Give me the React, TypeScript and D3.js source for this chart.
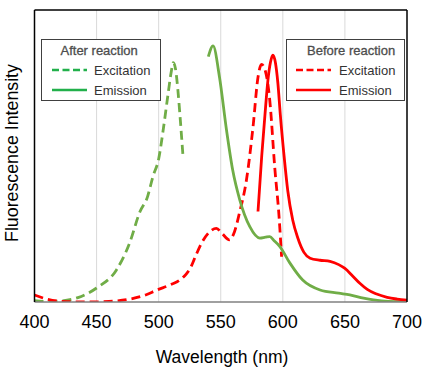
import React from 'react';
import * as d3 from 'd3';

type Pt = [number, number];

// After reaction (green)
const afterExcitation: Pt[] = [
  [400, 0.5], [410, 0.2], [422, 0.4], [435, 1.5], [450, 4.8], [466, 11], [476.6, 20.2],
  [485, 31], [491, 36], [495.4, 43], [500, 49], [504, 60], [507.5, 71], [510, 78.5],
  [511.8, 82], [513.5, 80], [515.5, 72.5], [517.5, 62], [519.5, 50.5],
];
const afterEmission: Pt[] = [
  [540, 84], [543.8, 87.7], [549, 77], [554.6, 59], [559.7, 45], [565.3, 35], [573.4, 25.8],
  [581.5, 21.9], [586, 22.2], [589.5, 22.4], [593, 21], [597.6, 19], [605.6, 13.4], [616, 7.5],
  [630, 4.1], [645, 3], [654, 2.4], [665, 1.3], [673, 0.7], [685, 0.2], [700, 0.1],
];

// Before reaction (red)
const beforeExcitation: Pt[] = [
  [400, 2.4], [410, 1], [420, 0.3], [440, 0], [460, 0.2], [477, 1], [490, 2.5], [498, 4],
  [510, 6], [517, 7.5], [522, 9.5], [526, 12], [530, 16], [535, 20.5], [541, 24], [546.5, 25.2],
  [551, 23.5], [557, 21.3], [561, 24], [565, 30.4], [570.7, 41.8], [576, 60], [580, 77],
  [582.8, 81.4], [586, 79], [589.5, 69], [593.5, 46], [597, 29], [599, 15.5],
];
const beforeEmission: Pt[] = [
  [580, 31], [583, 50], [585.5, 63.5], [588, 76], [590, 82], [592, 84.5], [594, 82], [596, 75],
  [598, 64], [601, 50], [604, 38], [608, 28], [612, 22], [617, 17], [622, 15], [630, 14.3],
  [638, 13.9], [645, 12.8], [650, 11.5], [656, 9], [662, 6.4], [668, 4.3], [675, 2.8],
  [684, 1.6], [692, 1], [700, 0.6],
];

const xTicks = [400, 450, 500, 550, 600, 650, 700];
const gridTicks = [450, 500, 550, 600, 650];

const GREEN = '#70AD47';
const GREEN_LEG = '#22B04B';
const RED = '#FF0000';

const W = 431, H = 371;
const left = 34.5, right = 407, top = 10, bottom = 302;

export default function App() {
  const x = d3.scaleLinear().domain([400, 700]).range([left, right]);
  const y = d3.scaleLinear().domain([0, 100]).range([bottom, top]);
  const line = d3.line<Pt>().x(d => x(d[0])).y(d => y(d[1])).curve(d3.curveMonotoneX);
  const font = 'Arial, "Liberation Sans", sans-serif';

  return (
    <svg width={W} height={H} style={{ position: 'absolute', left: 0, top: 0, background: '#fff' }} fontFamily={font}>
      <rect x={0} y={0} width={W} height={H} fill="#fff" />
      {/* grid */}
      {gridTicks.map(t => (
        <line key={t} x1={x(t)} x2={x(t)} y1={top} y2={bottom} stroke="#d9d9d9" strokeWidth={1} />
      ))}

      <defs>
        <clipPath id="plot">
          <rect x={left} y={top} width={right - left} height={bottom - top} />
        </clipPath>
      </defs>

      {/* curves */}
      <g clipPath="url(#plot)" fill="none" strokeWidth={2.8}>
        <path d={line(afterExcitation) || ''} stroke={GREEN} strokeDasharray="9,5" />
        <path d={line(beforeExcitation) || ''} stroke={RED} strokeDasharray="9,5" />
        <path d={line(afterEmission) || ''} stroke={GREEN} />
        <path d={line(beforeEmission) || ''} stroke={RED} />
      </g>

      {/* frame */}
      <line x1={left} x2={right} y1={bottom} y2={bottom} stroke="#808080" strokeWidth={1.5} />
      <line x1={left} x2={right} y1={top} y2={top} stroke="#000" strokeWidth={1.5} />
      <line x1={left} x2={left} y1={top} y2={bottom} stroke="#000" strokeWidth={1.5} />
      <line x1={right} x2={right} y1={top} y2={bottom} stroke="#000" strokeWidth={1.5} />

      {/* x tick labels */}
      {xTicks.map(t => (
        <text key={t} x={x(t)} y={328} textAnchor="middle" fontSize={18} fill="#000">{t}</text>
      ))}
      <text x={222} y={362.5} textAnchor="middle" fontSize={17.5} fill="#000">Wavelength (nm)</text>
      <text transform={`translate(18,153) rotate(-90)`} textAnchor="middle" fontSize={17.8} fill="#000">
        Fluorescence Intensity
      </text>

      {/* legend: after reaction */}
      <g>
        <rect x={41.5} y={39.5} width={119} height={61} fill="#fff" stroke="#404040" strokeWidth={1} />
        <text x={60.5} y={55} fontSize={13} fill="#4d4d4d" stroke="#4d4d4d" strokeWidth={0.3}>After reaction</text>
        <line x1={52} x2={87} y1={70} y2={70} stroke={GREEN_LEG} strokeWidth={2.6} strokeDasharray="7,3.5" />
        <text x={94} y={74.5} fontSize={13} fill="#333">Excitation</text>
        <line x1={52} x2={87} y1={90} y2={90} stroke={GREEN_LEG} strokeWidth={2.6} />
        <text x={94} y={94.5} fontSize={13} fill="#333">Emission</text>
      </g>

      {/* legend: before reaction */}
      <g>
        <rect x={286.5} y={39.5} width={118} height={61} fill="#fff" stroke="#404040" strokeWidth={1} />
        <text x={307} y={55} fontSize={13} fill="#4d4d4d" stroke="#4d4d4d" strokeWidth={0.3}>Before reaction</text>
        <line x1={296} x2={331} y1={70} y2={70} stroke={RED} strokeWidth={2.6} strokeDasharray="7,3.5" />
        <text x={339} y={74.5} fontSize={13} fill="#333">Excitation</text>
        <line x1={296} x2={331} y1={90} y2={90} stroke={RED} strokeWidth={2.6} />
        <text x={339} y={94.5} fontSize={13} fill="#333">Emission</text>
      </g>
    </svg>
  );
}
